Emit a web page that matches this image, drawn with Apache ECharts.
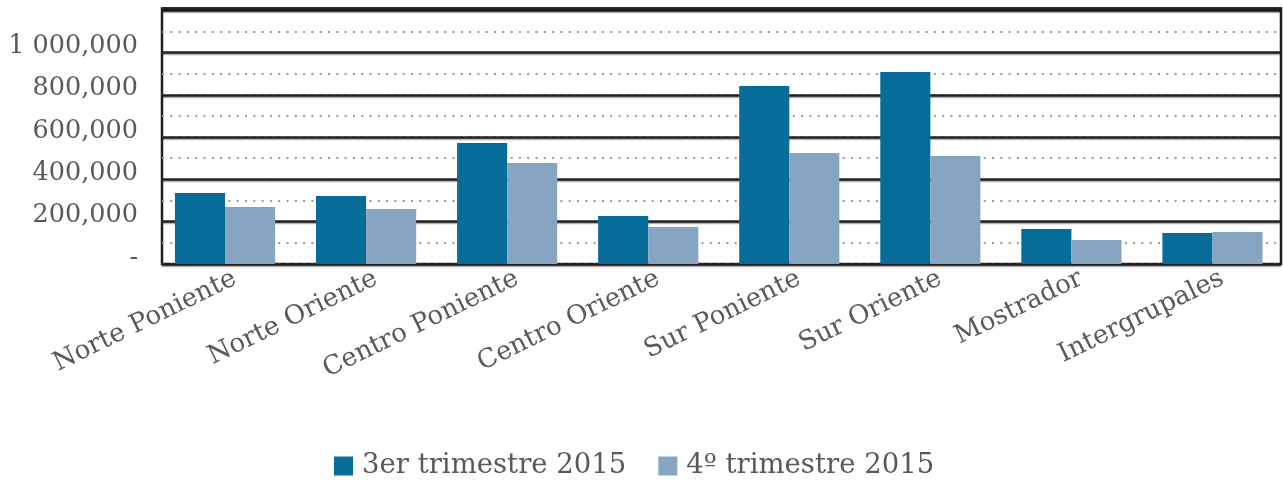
<!DOCTYPE html>
<html>
<head>
<meta charset="utf-8">
<script src="https://cdn.jsdelivr.net/npm/echarts@6/dist/echarts.min.js"></script>
<style>html,body{margin:0;padding:0;background:#fff}#c{width:1283px;height:482px}</style>
</head>
<body>
<div id="c"></div>
<script>
const categories = ['Norte Poniente','Norte Oriente','Centro Poniente','Centro Oriente','Sur Poniente','Sur Oriente','Mostrador','Intergrupales'];
const seriesNames = ['3er trimestre 2015','4º trimestre 2015'];
const q3 = [336000, 322000, 572000, 227000, 842000, 908000, 166000, 147000];
const q4 = [270000, 260000, 478000, 175000, 525000, 511000, 114000, 151000];
const yTickLabels = ['-', '200,000', '400,000', '600,000', '800,000', '1 000,000'];

const FONT = 'DejaVu Serif';
const TXT = '#595959';
const YMAX = 1208000;

const chart = echarts.init(document.getElementById('c'), null, {renderer: 'canvas'});
chart.setOption({
  animation: false,
  textStyle: {fontFamily: FONT},
  legend: {
    top: 452, left: 334, padding: 0,
    itemWidth: 19, itemHeight: 19, itemGap: 32,
    icon: 'rect',
    textStyle: {fontFamily: FONT, fontSize: 27.5, color: TXT, padding: [0,0,0,4]},
    data: seriesNames
  },
  grid: [
    {left: 162, right: 2, top: 8.5, bottom: 218, show: true, borderColor: '#231f20', borderWidth: 2.5, backgroundColor: 'transparent'},
    {left: 154.5, width: 1133, top: 8.5, bottom: 218}
  ],
  xAxis: [
    {gridIndex: 0, type: 'value', show: false, min: 0, max: 1},
    {gridIndex: 1, type: 'category', data: categories,
     axisLine: {show: false}, axisTick: {show: false},
     axisLabel: {rotate: 26, margin: 18, fontFamily: FONT, fontSize: 26, color: TXT, interval: 0, padding: [0, -11, 0, 0]}}
  ],
  yAxis: [
    {gridIndex: 0, type: 'value', min: 0, max: YMAX, interval: 200000, z: 3,
     axisLine: {show: false}, axisTick: {show: false},
     splitLine: {show: true, lineStyle: {color: '#231f20', width: 2.5, shadowColor: 'rgba(0,0,0,0.3)', shadowOffsetY: 1.5}},
     axisLabel: {margin: 24, fontFamily: FONT, fontSize: 25.5, color: TXT, verticalAlign: 'bottom', lineHeight: 12,
       formatter: function (v) { const i = Math.round(v / 200000); return (v % 200000 === 0 && i < yTickLabels.length) ? yTickLabels[i] : ''; }}},
    {gridIndex: 0, type: 'value', min: 0, max: YMAX, interval: 100000, z: 1, position: 'left',
     axisLine: {show: false}, axisTick: {show: false}, axisLabel: {show: false},
     splitLine: {show: true, lineStyle: {color: '#9a9a9a', width: 2, type: [2, 6.3]}}},
    {gridIndex: 1, type: 'value', min: 0, max: YMAX, show: false, splitLine: {show: false}}
  ],
  series: [
    {name: seriesNames[0], type: 'bar', xAxisIndex: 1, yAxisIndex: 2, data: q3, barGap: '0%', barCategoryGap: '29%', itemStyle: {color: '#086c99'}, z: 5},
    {name: seriesNames[1], type: 'bar', xAxisIndex: 1, yAxisIndex: 2, data: q4, barGap: '0%', barCategoryGap: '29%', itemStyle: {color: '#86a5c2'}, z: 5}
  ]
});
</script>
</body>
</html>
